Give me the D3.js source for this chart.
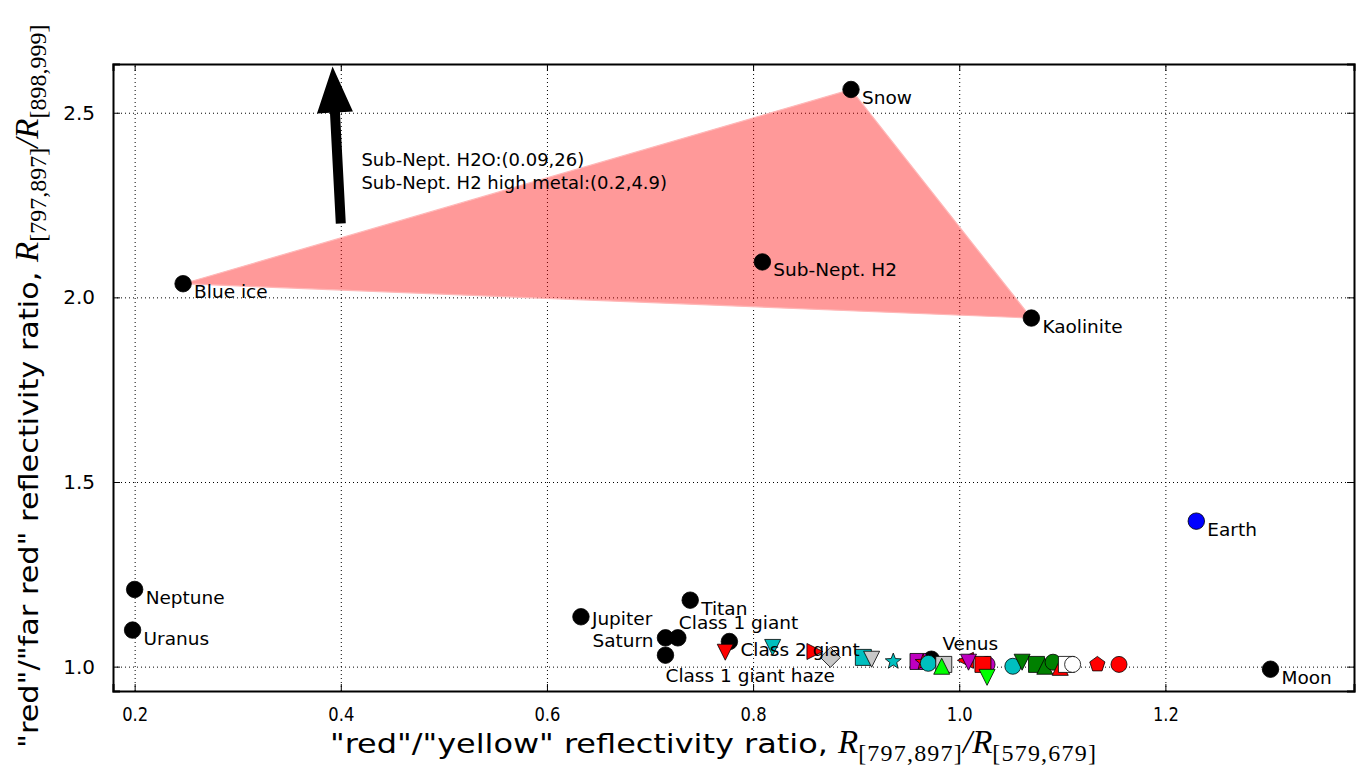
<!DOCTYPE html>
<html>
<head>
<meta charset="utf-8">
<script src="https://cdn.jsdelivr.net/npm/d3@7"></script>
<style>
    body { margin: 0; background: #fff; }
    svg { display: block; }
</style>
</head>
<body>
<svg width="1357" height="777"></svg>
<script>
    // labelled planets / surfaces (black dots)
    var pointNames = ["Neptune", "Uranus", "Blue ice", "Snow", "Sub-Nept. H2", "Kaolinite", "Earth", "Moon",
        "Jupiter", "Titan", "Saturn", "Class 1 giant", "Class 1 giant haze", "Class 2 giant", "Venus"];
    var pointX = [0.200, 0.198, 0.247, 0.895, 0.809, 1.070, 1.230, 1.302,
        0.633, 0.739, 0.715, 0.727, 0.715, 0.777, 0.973];
    var pointY = [1.209, 1.099, 2.037, 2.563, 2.096, 1.944, 1.394, 0.993,
        1.135, 1.180, 1.078, 1.078, 1.031, 1.068, 1.020];

    // coloured model markers near ratio 1
    var markerX = [0.773, 0.819, 0.860, 0.875, 0.907, 0.915, 0.936, 0.960, 0.965, 0.970, 0.985, 0.983,
        1.006, 1.009, 1.027, 1.023, 1.027, 1.052, 1.061, 1.075, 1.083, 1.091, 1.098, 1.104, 1.110, 1.134, 1.155];
    var markerY = [1.039, 1.052, 1.041, 1.025, 1.025, 1.020, 1.014, 1.014, 1.012, 1.009, 1.006, 1.001,
        1.017, 1.012, 1.006, 1.006, 0.971, 1.001, 1.012, 1.006, 1.001, 1.012, 0.998, 1.006, 1.006, 1.006, 1.006];
    var markerShape = ["v", "v", ">", "D", "s", "v", "*", "s", "*", "o", "s", "^",
        "<", "v", "o", "s", "v", "o", "v", "s", "^", "o", "^", "s", "o", "p", "o"];
    var markerColor = ["r", "c", "r", "gray", "c", "gray", "c", "m", "r", "c", "gray", "lime",
        "r", "m", "m", "r", "lime", "c", "g", "g", "g", "g", "r", "w", "w", "r", "r"];

    var xTicks = [0.2, 0.4, 0.6, 0.8, 1.0, 1.2];
    var yTicks = [1.0, 1.5, 2.0, 2.5];

    var regionNames = ["Blue ice", "Snow", "Kaolinite"];
    var arrowFrom = [0.400, 2.20];
    var arrowTo = [0.392, 2.625];
    var noteX = 0.42, noteY = 2.372;
    var noteLines = ["Sub-Nept. H2O:(0.09,26)", "Sub-Nept. H2 high metal:(0.2,4.9)"];

    var colorMap = {r: "#ff0000", c: "#00bfbf", m: "#bf00bf", g: "#008000", lime: "#00ff00",
        gray: "#c8c8c8", w: "#ffffff", b: "#0000ff", k: "#000000"};

    var svg = d3.select("svg"),
        margin = {top: 64, right: 3, bottom: 86, left: 113},
        width = +svg.attr("width") - margin.left - margin.right,
        height = +svg.attr("height") - margin.top - margin.bottom,
        g = svg.append("g").attr("transform", "translate(" + margin.left + "," + margin.top + ")");

    var x = d3.scaleLinear().domain([0.179, 1.383]).range([0, width]);
    var y = d3.scaleLinear().domain([0.934, 2.632]).range([height, 0]);

    // grid
    g.append("g")
        .attr("class", "grid")
        .attr("transform", "translate(0," + height + ")")
        .call(d3.axisBottom(x).tickValues(xTicks).tickSize(-height).tickFormat(""));
    g.append("g")
        .attr("class", "grid")
        .call(d3.axisLeft(y).tickValues(yTicks).tickSize(-width).tickFormat(""));
    g.selectAll(".grid .domain").remove();
    g.selectAll(".grid line")
        .attr("stroke", "#000")
        .attr("stroke-width", 1)
        .attr("stroke-dasharray", "1,3");

    // shaded region between blue ice, snow, kaolinite
    var region = regionNames.map(function (n) {
        var i = pointNames.indexOf(n);
        return [x(pointX[i]), y(pointY[i])];
    });
    g.append("path")
        .attr("d", "M" + region.join("L") + "Z")
        .attr("fill", "#ff0000")
        .attr("fill-opacity", 0.4)
        .attr("stroke", "#ffb8b8")
        .attr("stroke-width", 1.2);

    // arrow
    (function () {
        var x0 = x(arrowFrom[0]), y0 = y(arrowFrom[1]),
            x1 = x(arrowTo[0]), y1 = y(arrowTo[1]);
        var dx = x1 - x0, dy = y1 - y0, len = Math.sqrt(dx * dx + dy * dy);
        var ux = dx / len, uy = dy / len, px = -uy, py = ux;
        var tw = 5, hw = 18, hl = 46;
        var bx = x1 - ux * hl, by = y1 - uy * hl;
        var pts = [
            [x0 + px * tw, y0 + py * tw],
            [bx + px * tw, by + py * tw],
            [bx + px * hw, by + py * hw],
            [x1, y1],
            [bx - px * hw, by - py * hw],
            [bx - px * tw, by - py * tw],
            [x0 - px * tw, y0 - py * tw]
        ];
        g.append("path")
            .attr("d", "M" + pts.join("L") + "Z")
            .attr("fill", "#000");
    })();

    g.append("text")
        .attr("x", x(noteX))
        .attr("y", y(noteY))
        .attr("font-family", "DejaVu Sans")
        .attr("font-size", 18)
        .selectAll("tspan")
        .data(noteLines)
        .enter().append("tspan")
        .attr("x", x(noteX))
        .attr("dy", function (d, i) { return i === 0 ? "0.35em" : "1.25em"; })
        .text(function (d) { return d; });

    // marker shapes (matplotlib style), s = marker size in px
    function markerPath(shape, s) {
        var r = s / 2;
        switch (shape) {
            case "s":
                return "M" + [[-r, -r], [r, -r], [r, r], [-r, r]].join("L") + "Z";
            case "^":
                return "M" + [[0, -r], [r, r], [-r, r]].join("L") + "Z";
            case "v":
                return "M" + [[0, r], [r, -r], [-r, -r]].join("L") + "Z";
            case ">":
                return "M" + [[r, 0], [-r, -r], [-r, r]].join("L") + "Z";
            case "<":
                return "M" + [[-r, 0], [r, -r], [r, r]].join("L") + "Z";
            case "D":
                var d = r * 1.25;
                return "M" + [[0, -d], [d, 0], [0, d], [-d, 0]].join("L") + "Z";
            case "*":
                var pts = [];
                for (var i = 0; i < 10; i++) {
                    var a = -Math.PI / 2 + i * Math.PI / 5, rr = i % 2 ? r * 0.45 : r * 1.05;
                    pts.push([rr * Math.cos(a), rr * Math.sin(a)]);
                }
                return "M" + pts.join("L") + "Z";
            case "p":
                var pp = [];
                for (var j = 0; j < 5; j++) {
                    var b = -Math.PI / 2 + j * 2 * Math.PI / 5;
                    pp.push([r * Math.cos(b), r * Math.sin(b)]);
                }
                return "M" + pp.join("L") + "Z";
            default:
                return d3.symbol(d3.symbolCircle, Math.PI * r * r)();
        }
    }

    // black labelled dots
    var points = pointNames.map(function (n, i) {
        return {name: n, x: pointX[i], y: pointY[i], color: n === "Earth" ? "b" : "k"};
    });

    g.selectAll(".pt")
        .data(points)
        .enter().append("path")
        .attr("class", "pt")
        .attr("transform", function (d) { return "translate(" + x(d.x) + "," + y(d.y) + ")"; })
        .attr("d", markerPath("o", 16.5))
        .attr("fill", function (d) { return colorMap[d.color]; })
        .attr("stroke", "#000")
        .attr("stroke-width", 0.8);

    var markers = markerX.map(function (v, i) {
        return {x: v, y: markerY[i], shape: markerShape[i], color: markerColor[i]};
    });

    g.selectAll(".mk")
        .data(markers)
        .enter().append("path")
        .attr("class", "mk")
        .attr("transform", function (d) { return "translate(" + x(d.x) + "," + y(d.y) + ")"; })
        .attr("d", function (d) { return markerPath(d.shape, 16); })
        .attr("fill", function (d) { return colorMap[d.color]; })
        .attr("stroke", "#000")
        .attr("stroke-width", 0.8);

    // labels: default below-right of the dot, a few moved by hand
    var labelOffsets = {
        "Jupiter": [11, 2, "start"],
        "Saturn": [-12, 3, "end"],
        "Class 1 giant": [1, -15, "start"],
        "Class 1 giant haze": [0, 20, "start"],
        "Venus": [11, -16, "start"]
    };

    g.selectAll(".lbl")
        .data(points)
        .enter().append("text")
        .attr("class", "lbl")
        .attr("x", function (d) { return x(d.x) + (labelOffsets[d.name] || [11])[0]; })
        .attr("y", function (d) { return y(d.y) + (labelOffsets[d.name] || [11, 8])[1]; })
        .attr("dy", "0.35em")
        .attr("text-anchor", function (d) { return (labelOffsets[d.name] || [0, 0, "start"])[2]; })
        .attr("font-family", "DejaVu Sans")
        .attr("font-size", 18.5)
        .text(function (d) { return d.name; });

    // axes: ticks inside on all four sides
    var axBottom = g.append("g")
        .attr("transform", "translate(0," + height + ")")
        .call(d3.axisBottom(x).tickValues(xTicks).tickSize(-7).tickPadding(16).tickFormat(d3.format(".1f")));
    var axTop = g.append("g")
        .call(d3.axisTop(x).tickValues(xTicks).tickSize(-7).tickFormat(""));
    var axLeft = g.append("g")
        .call(d3.axisLeft(y).tickValues(yTicks).tickSize(-7).tickPadding(18).tickFormat(d3.format(".1f")));
    var axRight = g.append("g")
        .attr("transform", "translate(" + width + ",0)")
        .call(d3.axisRight(y).tickValues(yTicks).tickSize(-7).tickFormat(""));

    [axBottom, axTop, axLeft, axRight].forEach(function (a) {
        a.select(".domain").attr("stroke", "#000").attr("stroke-width", 2);
        a.selectAll(".tick line").attr("stroke", "#000").attr("stroke-width", 1);
    });
    axBottom.selectAll(".tick text")
        .attr("font-family", "DejaVu Sans")
        .attr("font-size", 20)
        .attr("textLength", 26)
        .attr("lengthAdjust", "spacingAndGlyphs")
        .attr("fill", "#000");
    axLeft.selectAll(".tick text")
        .attr("font-family", "DejaVu Sans")
        .attr("font-size", 20)
        .attr("fill", "#000");

    // axis titles with math part
    function mathLabel(sel, plain, plainLen, sub1, sub2, spacing) {
        sel.attr("font-size", 27);
        sel.append("tspan")
            .attr("font-family", "DejaVu Sans")
            .attr("textLength", plainLen)
            .attr("lengthAdjust", "spacingAndGlyphs")
            .text(plain);
        sel.append("tspan").attr("font-family", "Liberation Serif").attr("font-style", "italic")
            .attr("font-size", 33).text("R");
        sel.append("tspan").attr("font-family", "Liberation Serif").attr("font-size", 24)
            .attr("letter-spacing", spacing).attr("dy", 8).text(sub1);
        sel.append("tspan").attr("font-family", "Liberation Serif").attr("font-style", "italic")
            .attr("font-size", 33).attr("dy", -8).text("/R");
        sel.append("tspan").attr("font-family", "Liberation Serif").attr("font-size", 24)
            .attr("letter-spacing", spacing).attr("dy", 8).text(sub2);
    }

    var xl = svg.append("text")
        .attr("x", 330)
        .attr("y", 753);
    mathLabel(xl, "\"red\"/\"yellow\" reflectivity ratio, ", 508, "[797,897]", "[579,679]", 1.2);

    var yl = svg.append("text")
        .attr("transform", "translate(38,748) rotate(-90)");
    mathLabel(yl, "\"red\"/\"far red\" reflectivity ratio, ", 486, "[797,897]", "[898,999]", 0);
</script>
</body>
</html>
